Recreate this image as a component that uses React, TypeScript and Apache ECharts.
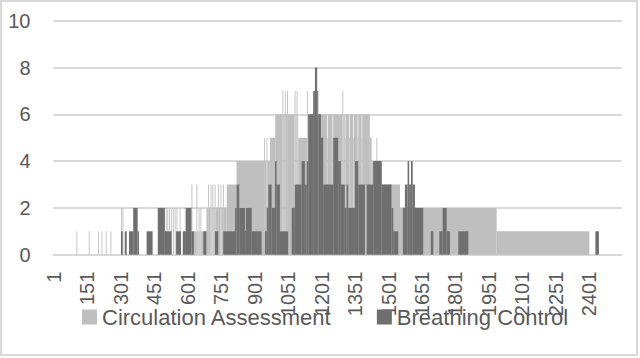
import React, { useEffect, useRef } from "react";
import * as echarts from "echarts";

// Number of categories (rows) on the x axis
const categoryCount = 2545;
const categories: string[] = Array.from({ length: categoryCount }, (_, i) => String(i + 1));

// Runs of equal value: [firstCategory, lastCategory, value]
const circulationRuns: [number, number, number][] = [
  [104, 107, 1], [159, 162, 1], [201, 204, 1], [216, 219, 1], [235, 238, 1], [256, 259, 1],
  [304, 307, 2], [310, 313, 2],
  [504, 507, 2], [511, 514, 2], [519, 522, 2], [527, 530, 2], [536, 539, 2], [544, 547, 2],
  [552, 555, 2], [566, 569, 2], [589, 592, 2],
  [619, 622, 3],
  [630, 640, 1], [641, 644, 3], [645, 650, 1], [651, 654, 2], [655, 658, 1], [659, 662, 2], [663, 685, 1],
  [686, 692, 2], [693, 696, 3], [697, 704, 2], [705, 708, 3], [709, 712, 2], [713, 716, 3],
  [717, 722, 2], [723, 726, 3], [727, 737, 2], [738, 741, 3], [742, 748, 2], [749, 752, 3],
  [753, 759, 2], [760, 763, 3], [764, 776, 2],
  [777, 820, 3],
  [821, 943, 4], [944, 947, 5], [948, 954, 4], [955, 958, 5], [959, 969, 4],
  [970, 993, 5],
  [994, 1025, 6], [1026, 1029, 7], [1030, 1036, 6], [1037, 1040, 7], [1041, 1046, 6], [1047, 1050, 7],
  [1051, 1080, 6], [1081, 1084, 7], [1085, 1089, 6], [1090, 1093, 7], [1094, 1096, 6],
  [1097, 1135, 5], [1136, 1139, 7], [1140, 1141, 5],
  [1142, 1226, 6], [1227, 1229, 5], [1230, 1250, 6], [1251, 1253, 5], [1254, 1294, 6], [1295, 1298, 7],
  [1299, 1305, 6], [1306, 1308, 5], [1309, 1325, 6], [1326, 1328, 5], [1329, 1343, 6], [1344, 1346, 5],
  [1347, 1362, 6], [1363, 1365, 5], [1366, 1380, 6], [1381, 1383, 5], [1384, 1417, 6],
  [1418, 1425, 5],
  [1426, 1446, 4], [1447, 1450, 5], [1451, 1470, 4],
  [1471, 1552, 3],
  [1553, 1985, 2],
  [1986, 2400, 1],
];

const breathingRuns: [number, number, number][] = [
  [303, 310, 1], [320, 328, 1], [339, 357, 1], [358, 377, 2], [378, 383, 1],
  [418, 444, 1], [468, 499, 2], [500, 529, 1], [550, 571, 1],
  [580, 593, 1], [594, 618, 2], [619, 629, 1], [672, 685, 1], [724, 738, 1],
  [761, 813, 1], [814, 820, 2], [821, 832, 3], [833, 858, 2], [859, 862, 1], [863, 888, 2], [889, 932, 1],
  [948, 955, 1], [956, 962, 2], [963, 977, 3], [978, 992, 2], [993, 999, 4], [1000, 1014, 3], [1015, 1051, 1],
  [1068, 1081, 2], [1082, 1111, 3], [1112, 1126, 4], [1127, 1134, 3], [1135, 1141, 4],
  [1142, 1163, 6], [1164, 1171, 7], [1172, 1181, 8], [1182, 1186, 7], [1187, 1198, 6], [1199, 1208, 5],
  [1209, 1253, 3], [1254, 1275, 5], [1276, 1287, 4], [1288, 1305, 3], [1306, 1313, 2], [1314, 1320, 3],
  [1321, 1350, 2], [1351, 1365, 4], [1366, 1395, 3],
  [1404, 1432, 3], [1433, 1470, 4], [1471, 1514, 3], [1515, 1522, 2], [1523, 1544, 1],
  [1566, 1574, 2], [1575, 1586, 3], [1587, 1593, 4], [1594, 1601, 3], [1602, 1609, 4], [1610, 1619, 3],
  [1620, 1656, 2],
  [1691, 1701, 1], [1729, 1743, 1], [1744, 1761, 2], [1762, 1776, 1], [1814, 1858, 1],
  [2428, 2443, 1],
];

const seriesNames = ["Circulation Assessment", "Breathing Control"];
const seriesColors = ["#bfbfbf", "#6f6f6f"];

const TEXT = "#595959";
const GRID = "#d9d9d9";
const FONT = "Liberation Sans, Arial, sans-serif";

function toData(runs: [number, number, number][]) {
  // convert 1-based category labels to 0-based category indexes
  return runs.map(([s, e, v]) => [s - 1, e - 1, v]);
}

function makeRender(color: string) {
  return (_params: any, api: any) => {
    const s = api.value(0);
    const e = api.value(1);
    const v = api.value(2);
    const bw = api.size([1, 0])[0];
    const a = api.coord([s, 0]);
    const b = api.coord([e, v]);
    return {
      type: "rect",
      shape: { x: a[0] - bw / 2, y: b[1], width: b[0] - a[0] + bw, height: a[1] - b[1] },
      style: { fill: color },
    };
  };
}

export default function App() {
  const ref = useRef<HTMLDivElement>(null);
  useEffect(() => {
    if (!ref.current) return;
    const chart = echarts.init(ref.current, null, { renderer: "svg" });
    const option: any = {
      animation: false,
      backgroundColor: "#ffffff",
      textStyle: { fontFamily: FONT },
      graphic: [
        {
          type: "rect",
          shape: { x: 1, y: 1, width: 636, height: 354 },
          style: { fill: "none", stroke: GRID, lineWidth: 2 },
          silent: true,
        },
      ],
      grid: { left: 53.5, right: 18.3, top: 20.7, bottom: 103.3, containLabel: false },
      legend: {
        left: 77,
        top: 301,
        itemWidth: 15,
        itemHeight: 15,
        itemGap: 45,
        icon: "rect",
        data: seriesNames,
        textStyle: { fontSize: 22, color: TEXT, fontFamily: FONT },
      },
      xAxis: {
        type: "category",
        data: categories,
        boundaryGap: true,
        axisLine: { show: true, lineStyle: { color: GRID, width: 2 } },
        axisTick: { show: false },
        splitLine: { show: false },
        axisLabel: {
          interval: 149,
          rotate: 90,
          margin: 17,
          fontSize: 20,
          color: TEXT,
          fontFamily: FONT,
        },
      },
      yAxis: {
        type: "value",
        min: 0,
        max: 10,
        interval: 2,
        axisLine: { show: false },
        axisTick: { show: false },
        splitLine: { lineStyle: { color: GRID, width: 2 } },
        axisLabel: { fontSize: 20, color: TEXT, margin: 23, fontFamily: FONT },
      },
      series: [
        {
          name: seriesNames[0],
          type: "custom",
          renderItem: makeRender(seriesColors[0]),
          itemStyle: { color: seriesColors[0] },
          encode: { x: [0, 1], y: 2 },
          data: toData(circulationRuns),
        },
        {
          name: seriesNames[1],
          type: "custom",
          renderItem: makeRender(seriesColors[1]),
          itemStyle: { color: seriesColors[1] },
          encode: { x: [0, 1], y: 2 },
          data: toData(breathingRuns),
        },
      ],
    };
    chart.setOption(option);
    return () => chart.dispose();
  }, []);
  return (
    <div
      ref={ref}
      style={{ position: "absolute", left: 0, top: 0, width: 640, height: 358, background: "#fff" }}
    />
  );
}
